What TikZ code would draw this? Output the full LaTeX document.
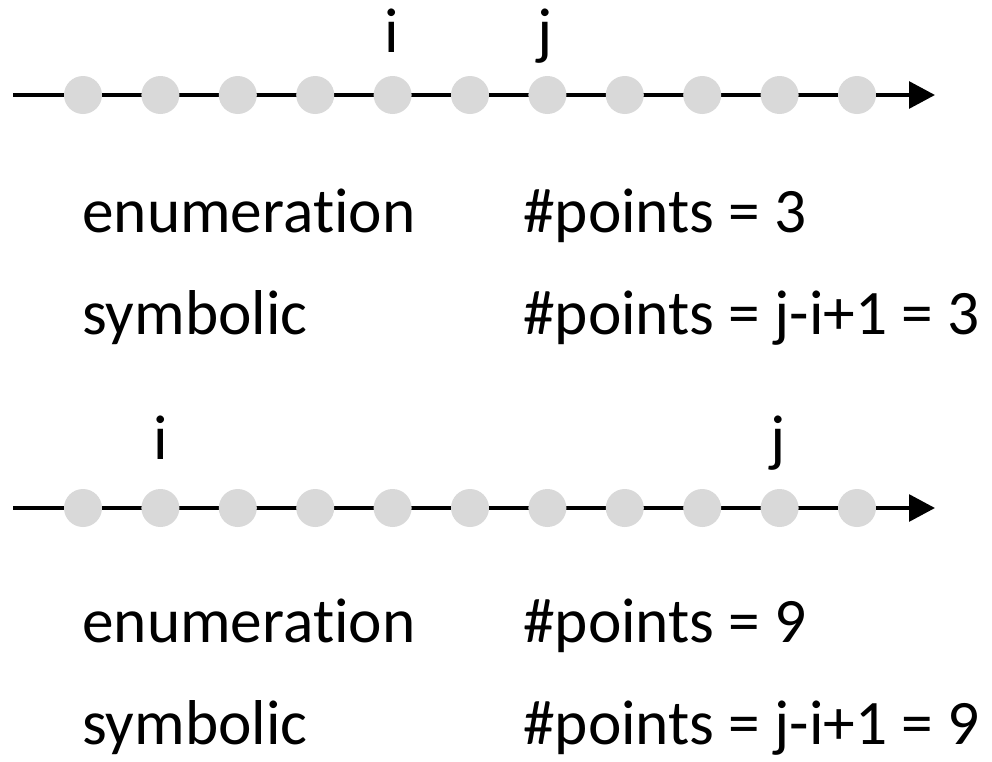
\documentclass[tikz,border=0pt]{standalone}
\usepackage{fontspec}
\setmainfont[Ligatures=NoCommon]{Carlito}
\usepackage{xcolor}
\usepackage{tikz}
\usetikzlibrary{
  arrows.meta,
  positioning
}
\definecolor{dotgray}{HTML}{D9D9D9}

\begin{document}
\begin{tikzpicture}[
  x=0.75pt, y=-0.75pt,
  every node/.style={font=\fontsize{47.5}{57}\selectfont, inner sep=0pt},
  dot/.style={circle, fill=dotgray, minimum size=28.5pt},
  axis/.style={-{Triangle[length=19.5pt, width=20pt]}, line width=3pt},
  idx/.style={anchor=base},
  txt/.style={anchor=base west},
]
\useasboundingbox (0,0) rectangle (992,761);

% first number line
\coordinate (a0) at (13,95);
\coordinate (a1) at (935,95);
\draw[axis] (a0) -- (a1);
\foreach \k in {0,...,10}
  \node[dot] (p\k) at ({83+77.4*\k},95) {};

\node[idx] (ti) at (392,52) {i};
\node[idx] (tj) at (545,52) {j};

\node[txt] (enum1) at (82,232) {enumeration};
\node[txt] (cnt1)  at (523,232) {\#points = 3};
\node[txt] (sym1)  at (82,334) {symbolic};
\node[txt] (frm1)  at (523,334) {\#points = j-i+1 = 3};

% second number line
\coordinate (b0) at (13,508);
\coordinate (b1) at (935,508);
\draw[axis] (b0) -- (b1);
\foreach \k in {0,...,10}
  \node[dot] (q\k) at ({83+77.4*\k},508) {};

\node[idx] (bi) at (161,459) {i};
\node[idx] (bj) at (778,459) {j};

\node[txt] (enum2) at (82,642) {enumeration};
\node[txt] (cnt2)  at (523,642) {\#points = 9};
\node[txt] (sym2)  at (82,744) {symbolic};
\node[txt] (frm2)  at (523,744) {\#points = j-i+1 = 9};
\end{tikzpicture}
\end{document}
